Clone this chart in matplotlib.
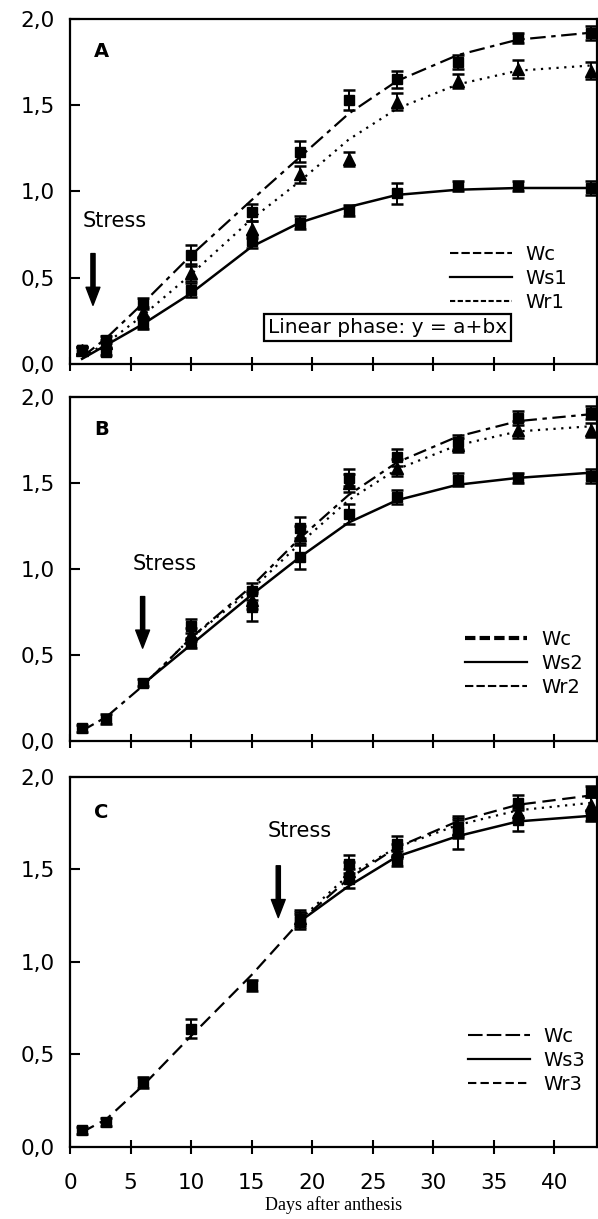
import numpy as np
import matplotlib
matplotlib.use('Agg')
import matplotlib.pyplot as plt
from matplotlib.lines import Line2D

nan = np.nan

# sampling days (days after anthesis)
days = [1, 3, 6, 10, 15, 19, 23, 27, 32, 37, 43]

# ---- panel A : measured means, errors and fitted curves
a_wc = [0.08, 0.14, 0.35, 0.63, 0.88, 1.23, 1.53, 1.65, 1.75, 1.89, 1.92]
a_wc_err = [0.02, 0.02, 0.03, 0.06, 0.05, 0.06, 0.06, 0.05, 0.04, 0.03, 0.04]
a_ws = [0.08, 0.07, 0.23, 0.43, 0.71, 0.82, 0.89, 0.99, 1.03, 1.03, 1.02]
a_ws_err = [0.02, 0.02, 0.03, 0.04, 0.04, 0.04, 0.03, 0.06, 0.03, 0.03, 0.04]
a_wr = [0.08, 0.12, 0.30, 0.53, 0.78, 1.10, 1.19, 1.52, 1.64, 1.71, 1.70]
a_wr_err = [0.02, 0.02, 0.03, 0.05, 0.05, 0.05, 0.04, 0.05, 0.04, 0.05, 0.05]
a_wc_fit = [0.04, 0.15, 0.35, 0.63, 0.95, 1.20, 1.45, 1.64, 1.79, 1.88, 1.92]
a_ws_fit = [0.03, 0.11, 0.23, 0.41, 0.68, 0.82, 0.91, 0.98, 1.01, 1.02, 1.02]
a_wr_fit = [0.04, 0.12, 0.28, 0.52, 0.84, 1.06, 1.30, 1.48, 1.62, 1.70, 1.73]

# ---- panel B
b_wc = [0.075, 0.13, 0.34, 0.67, 0.87, 1.24, 1.53, 1.65, 1.74, 1.88, 1.91]
b_wc_err = [0.02, 0.03, 0.02, 0.04, 0.05, 0.06, 0.05, 0.05, 0.04, 0.04, 0.04]
b_ws = [nan, nan, nan, 0.57, 0.78, 1.07, 1.32, 1.42, 1.52, 1.53, 1.54]
b_ws_err = [nan, nan, nan, 0.03, 0.08, 0.07, 0.06, 0.04, 0.04, 0.03, 0.04]
b_wr = [nan, nan, nan, 0.62, 0.82, 1.20, 1.50, 1.59, 1.72, 1.81, 1.81]
b_wr_err = [nan, nan, nan, 0.04, 0.05, 0.05, 0.05, 0.05, 0.04, 0.05, 0.04]
b_wc_fit = [0.06, 0.14, 0.32, 0.60, 0.90, 1.18, 1.43, 1.62, 1.77, 1.86, 1.90]
b_ws_fit = [nan, nan, 0.33, 0.56, 0.85, 1.07, 1.27, 1.40, 1.49, 1.53, 1.56]
b_wr_fit = [nan, nan, 0.32, 0.60, 0.88, 1.15, 1.40, 1.58, 1.72, 1.80, 1.83]

# ---- panel C
c_wc = [0.09, 0.135, 0.35, 0.64, 0.875, 1.23, 1.53, 1.64, 1.73, 1.86, 1.92]
c_wc_err = [0.02, 0.02, 0.03, 0.05, 0.03, 0.04, 0.05, 0.04, 0.05, 0.04, 0.03]
c_ws = [nan, nan, nan, nan, nan, 1.22, 1.45, 1.55, 1.70, 1.77, 1.79]
c_ws_err = [nan, nan, nan, nan, nan, 0.04, 0.05, 0.03, 0.09, 0.06, 0.03]
c_wr = [nan, nan, nan, nan, nan, 1.24, 1.49, 1.60, 1.72, 1.81, 1.85]
c_wr_err = [nan, nan, nan, nan, nan, 0.04, 0.05, 0.04, 0.05, 0.04, 0.04]
c_wc_fit = [0.08, 0.15, 0.33, 0.60, 0.93, 1.22, 1.45, 1.62, 1.76, 1.85, 1.90]
c_ws_fit = [nan, nan, nan, nan, nan, 1.22, 1.41, 1.57, 1.68, 1.76, 1.79]
c_wr_fit = [nan, nan, nan, nan, nan, 1.23, 1.47, 1.62, 1.74, 1.82, 1.86]

yticks = [0.0, 0.5, 1.0, 1.5, 2.0]
ytick_labels = ['0,0', '0,5', '1,0', '1,5', '2,0']
xticks = [0, 5, 10, 15, 20, 25, 30, 35, 40]


def draw_panel(ax, letter, wc, wc_err, ws, ws_err, wr, wr_err,
               wc_fit, ws_fit, wr_fit, wc_dash, leg_labels, leg_dashes,
               stress_x, stress_y, leg_anchor, wc_lw=1.5):
    'fitted curves'
    ax.plot(days, wc_fit, color='k', lw=1.6, dashes=wc_dash)
    ax.plot(days, wr_fit, color='k', lw=1.6, dashes=(1, 2.5))
    ax.plot(days, ws_fit, color='k', lw=1.8)

    'points with error bars'
    ax.errorbar(days, ws, yerr=ws_err, fmt='s', color='k', ms=7,
                capsize=4.5, elinewidth=1.4, capthick=1.8)
    ax.errorbar(days, wr, yerr=wr_err, fmt='^', color='k', ms=8,
                capsize=4.5, elinewidth=1.4, capthick=1.8)
    ax.errorbar(days, wc, yerr=wc_err, fmt='s', color='k', ms=7,
                capsize=4.5, elinewidth=1.4, capthick=1.8)

    'axes'
    ax.set_xlim(0, 43.5)
    ax.set_ylim(0, 2.0)
    ax.set_yticks(yticks)
    ax.set_yticklabels(ytick_labels)
    ax.set_xticks(xticks)
    for s in ax.spines.values():
        s.set_linewidth(1.6)
    ax.tick_params(axis='y', direction='in', length=7, width=1.5,
                   labelsize=15.5, pad=11)
    ax.tick_params(axis='x', direction='inout', length=10, width=1.5,
                   labelsize=15.5, pad=14)

    'panel letter'
    ax.text(2.6, 1.81, letter, fontsize=14, fontweight='bold',
            ha='center', va='center')

    'stress arrow'
    ax.annotate('', xy=(stress_x, stress_y[1]), xytext=(stress_x, stress_y[0]),
                arrowprops=dict(facecolor='k', edgecolor='k', width=3,
                                headwidth=10, headlength=13))
    ax.text(stress_x + 1.8, stress_y[0] + 0.19, 'Stress', fontsize=15,
            ha='center', va='center')

    'legend'
    handles = []
    for lab, d in zip(leg_labels, leg_dashes):
        if d is None:
            handles.append(Line2D([], [], color='k', lw=1.6))
        else:
            lw = wc_lw if lab == 'Wc' else 1.5
            handles.append(Line2D([], [], color='k', lw=lw, dashes=d))
    ax.legend(handles=handles, labels=leg_labels, loc='upper left',
              bbox_to_anchor=leg_anchor, frameon=False, fontsize=14,
              handlelength=3.2, handletextpad=0.7, labelspacing=0.25,
              borderpad=0, borderaxespad=0)


fig = plt.figure(figsize=(5.98, 12.19), dpi=100)
axA = fig.add_axes([0.117, 0.7014, 0.881, 0.2831])
axB = fig.add_axes([0.117, 0.3921, 0.881, 0.2822])
axC = fig.add_axes([0.117, 0.0591, 0.881, 0.3035])

draw_panel(axA, 'A', a_wc, a_wc_err, a_ws, a_ws_err, a_wr, a_wr_err,
           a_wc_fit, a_ws_fit, a_wr_fit, (7, 2.5, 2, 2.5),
           ['Wc', 'Ws1', 'Wr1'], [(4, 1.5), None, (2.5, 1.2)],
           1.9, (0.64, 0.34), (0.721, 0.345))
draw_panel(axB, 'B', b_wc, b_wc_err, b_ws, b_ws_err, b_wr, b_wr_err,
           b_wc_fit, b_ws_fit, b_wr_fit, (6, 2.5, 2, 2.5),
           ['Wc', 'Ws2', 'Wr2'], [(2.5, 1), None, (4, 1.5)],
           6.0, (0.84, 0.54), (0.75, 0.323), wc_lw=3)
draw_panel(axC, 'C', c_wc, c_wc_err, c_ws, c_ws_err, c_wr, c_wr_err,
           c_wc_fit, c_ws_fit, c_wr_fit, (6, 3),
           ['Wc', 'Ws3', 'Wr3'], [(7, 2), None, (4, 2)],
           17.2, (1.52, 1.24), (0.755, 0.324))

axA.tick_params(axis='x', labelbottom=False)
axB.tick_params(axis='x', labelbottom=False)

'linear phase box'
axA.text(26.2, 0.21, 'Linear phase: y = a+bx', fontsize=14.5, ha='center',
         va='center', bbox=dict(boxstyle='square,pad=0.2', fc='white',
                                ec='k', lw=1.6))

fig.text(0.557, 0.0115, 'Days after anthesis', family='Liberation Serif',
         fontsize=13, ha='center', va='center')

plt.savefig('out.png', dpi=100)
